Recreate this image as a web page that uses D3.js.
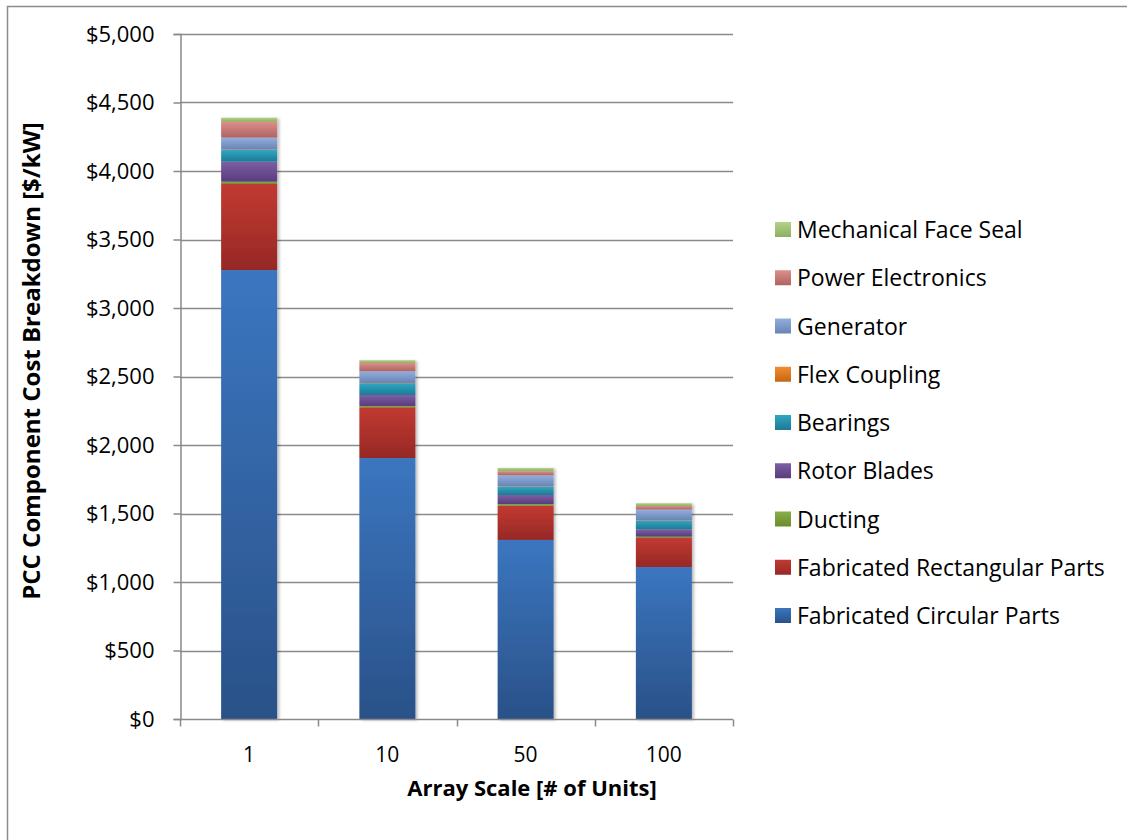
<!DOCTYPE html>
<html>
<head>
<meta charset="utf-8">
<script src="https://cdn.jsdelivr.net/npm/d3@7"></script>
<style>
  html, body { margin: 0; padding: 0; background: #fff; }
  svg { display: block; font-family: "Open Sans", "Noto Sans", sans-serif; }
</style>
</head>
<body>
<svg id="chart" width="1127" height="840"></svg>
<script>
// Array scales (x categories)
const categories = ["1", "10", "50", "100"];

// Cost components, bottom of stack first
const seriesNames = [
  "Fabricated Circular Parts",
  "Fabricated Rectangular Parts",
  "Ducting",
  "Rotor Blades",
  "Bearings",
  "Flex Coupling",
  "Generator",
  "Power Electronics",
  "Mechanical Face Seal"
];

// $/kW per component, one value per array scale
const fabCircular    = [3277, 1905, 1307, 1109];
const fabRectangular = [628, 370, 250, 212];
const ducting        = [17, 10, 12, 10];
const rotorBlades    = [146, 80, 66, 54];
const bearings       = [85, 85, 61, 63];
const flexCoupling   = [3, 3, 3, 3];
const generator      = [88, 85, 80, 78];
const powerElec      = [115, 61, 29, 26];
const faceSeal       = [30, 20, 24, 20];

const seriesValues = [fabCircular, fabRectangular, ducting, rotorBlades, bearings,
                      flexCoupling, generator, powerElec, faceSeal];

// Light (top) and dark (bottom) gradient stops per component
const colorsTop = ["#3B76C0", "#C23A31", "#8AAE48", "#7D5FA5", "#2FA6C3", "#F38C2E", "#93AEDD", "#DC8F8C", "#B3D28A"];
const colorsBot = ["#2A5188", "#962826", "#6A8C2E", "#583C7C", "#1E7A93", "#C66614", "#6884B4", "#AF6361", "#8DAE5F"];

const yTicks = [0, 500, 1000, 1500, 2000, 2500, 3000, 3500, 4000, 4500, 5000];

const svg = d3.select("#chart");
const defs = svg.append("defs");

seriesNames.forEach((name, i) => {
  const g = defs.append("linearGradient")
    .attr("id", "grad" + i)
    .attr("x1", 0).attr("y1", 0).attr("x2", 0).attr("y2", 1);
  g.append("stop").attr("offset", "0%").attr("stop-color", colorsTop[i]);
  g.append("stop").attr("offset", "100%").attr("stop-color", colorsBot[i]);
});

const shadow = defs.append("filter").attr("id", "shadow")
  .attr("x", "-20%").attr("y", "-5%").attr("width", "140%").attr("height", "110%");
shadow.append("feDropShadow").attr("dx", 2).attr("dy", 1).attr("stdDeviation", 1.6)
  .attr("flood-color", "#000").attr("flood-opacity", 0.28);

// Outer chart border
svg.append("rect")
  .attr("x", 7.5).attr("y", 6.5).attr("width", 1140).attr("height", 850)
  .attr("fill", "none").attr("stroke", "#8c8c8c").attr("stroke-width", 1.5);

const plot = { left: 180, right: 733, top: 34, bottom: 719 };

const x = d3.scaleBand()
  .domain(categories)
  .range([plot.left, plot.right])
  .paddingInner(0.595)
  .paddingOuter(0.2975);

const y = d3.scaleLinear()
  .domain([0, 5000])
  .range([plot.bottom, plot.top]);

// Gridlines
svg.append("g")
  .selectAll("line")
  .data(yTicks.filter(d => d > 0))
  .join("line")
  .attr("x1", plot.left).attr("x2", plot.right)
  .attr("y1", d => Math.round(y(d)) + 0.5).attr("y2", d => Math.round(y(d)) + 0.5)
  .attr("stroke", "#8a8a8a").attr("stroke-width", 1.5);

// Y axis
const yAxis = svg.append("g")
  .attr("transform", `translate(${plot.left + 0.5},0)`)
  .call(d3.axisLeft(y).tickValues(yTicks).tickSize(7).tickPadding(19)
    .tickFormat(d => "$" + d3.format(",")(d)));
yAxis.select(".domain").attr("stroke", "#8a8a8a").attr("stroke-width", 1.5);
yAxis.selectAll(".tick line").attr("stroke", "#8a8a8a").attr("stroke-width", 1.5);
yAxis.selectAll("text").attr("font-size", 22).attr("fill", "#000")
  .attr("font-family", "Open Sans, sans-serif");

// Stacked bars
const rows = categories.map((c, j) => {
  const r = { cat: c };
  seriesNames.forEach((n, i) => { r[n] = seriesValues[i][j]; });
  return r;
});
const stacked = d3.stack().keys(seriesNames)(rows);

const barsG = svg.append("g").attr("filter", "url(#shadow)");
categories.forEach((c, j) => {
  const col = barsG.append("g");
  stacked.forEach((layer, i) => {
    const seg = layer[j];
    col.append("rect")
      .attr("x", x(c))
      .attr("width", x.bandwidth())
      .attr("y", y(seg[1]))
      .attr("height", Math.max(0, y(seg[0]) - y(seg[1])))
      .attr("fill", `url(#grad${i})`);
  });
});

// X axis
const xAxis = svg.append("g")
  .attr("transform", `translate(0,${plot.bottom + 0.5})`);
xAxis.append("line")
  .attr("x1", plot.left).attr("x2", plot.right)
  .attr("stroke", "#8a8a8a").attr("stroke-width", 1.5);
const step = x.step();
const boundaries = d3.range(categories.length + 1).map(k => plot.left + k * step);
xAxis.selectAll("line.tick")
  .data(boundaries)
  .join("line").attr("class", "tick")
  .attr("x1", d => Math.round(d) + 0.5).attr("x2", d => Math.round(d) + 0.5)
  .attr("y1", 0).attr("y2", 7)
  .attr("stroke", "#8a8a8a").attr("stroke-width", 1.5);
xAxis.selectAll("text")
  .data(categories)
  .join("text")
  .attr("x", d => x(d) + x.bandwidth() / 2)
  .attr("y", 42)
  .attr("text-anchor", "middle")
  .attr("font-size", 21)
  .attr("fill", "#000")
  .text(d => d);

// Axis titles
svg.append("text")
  .attr("x", 532)
  .attr("y", 796)
  .attr("text-anchor", "middle")
  .attr("font-size", 22).attr("font-weight", "bold")
  .text("Array Scale [# of Units]");

svg.append("text")
  .attr("transform", "translate(40,361) rotate(-90)")
  .attr("text-anchor", "middle")
  .attr("font-size", 24).attr("font-weight", "bold")
  .text("PCC Component Cost Breakdown [$/kW]");

// Legend, top entry is the top of the stack
const legendOrder = seriesNames.map((n, i) => i).reverse();
const legend = svg.append("g");
legendOrder.forEach((i, k) => {
  const cy = 230 + k * 48.25;
  legend.append("rect")
    .attr("x", 775).attr("y", cy - 8).attr("width", 16).attr("height", 15)
    .attr("fill", `url(#grad${i})`);
  legend.append("text")
    .attr("x", 797).attr("y", cy)
    .attr("dy", "0.35em")
    .attr("font-size", 23)
    .attr("fill", "#000")
    .text(seriesNames[i]);
});
</script>
</body>
</html>
